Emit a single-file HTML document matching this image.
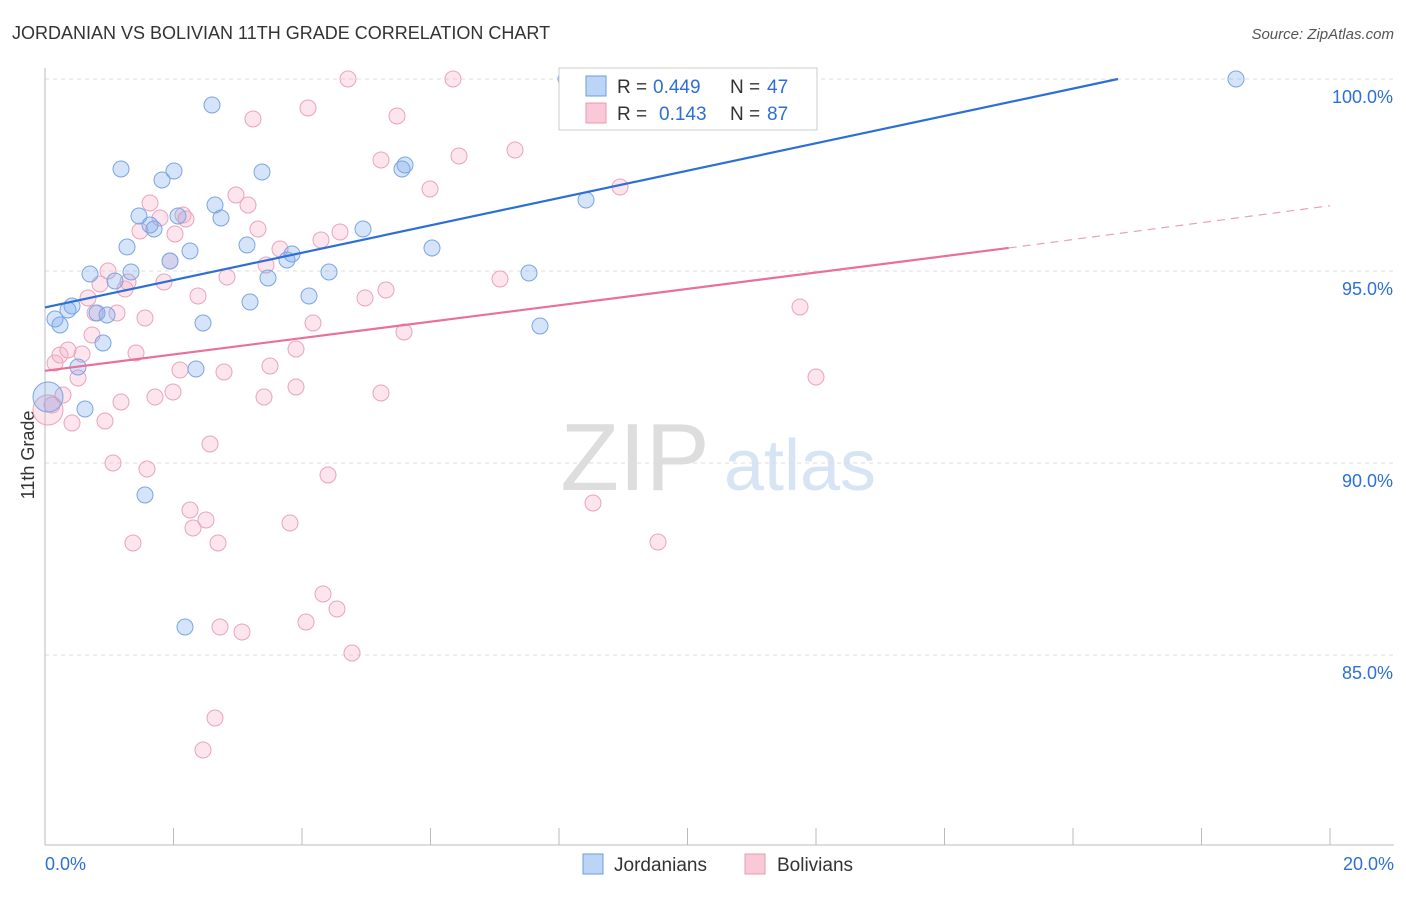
<!DOCTYPE html>
<html><head><meta charset="utf-8"><style>
body{margin:0;background:#fff;font-family:"Liberation Sans",sans-serif;}
svg text{font-family:"Liberation Sans",sans-serif;}
</style></head><body>
<svg id="chart" width="1406" height="892" xmlns="http://www.w3.org/2000/svg">
<text x="12" y="39" font-size="18" fill="#333">JORDANIAN VS BOLIVIAN 11TH GRADE CORRELATION CHART</text>
<text x="1394" y="39" font-size="15" fill="#555" font-style="italic" text-anchor="end">Source: ZipAtlas.com</text>
<text x="34" y="455" font-size="18" fill="#333" transform="rotate(-90 34 455)" text-anchor="middle">11th Grade</text>
<text x="635" y="490" font-size="96" fill="#ddd" font-family="Liberation Serif" text-anchor="middle">ZIP</text>
<text x="800" y="490" font-size="72" fill="#d6e4f5" text-anchor="middle">atlas</text>
<g id="grid"></g><g id="pts"></g><g id="lines"></g>
<g>
<rect x="559" y="68" width="258" height="62" fill="#fff" stroke="#ccc"/>
<rect x="586" y="76" width="20" height="20" fill="#bcd4f5" stroke="#6a9be0"/>
<rect x="586" y="103" width="20" height="20" fill="#f9c9d8" stroke="#e899b4"/>
<text x="617" y="93" font-size="19" fill="#333">R =</text>
<text x="653" y="93" font-size="19" fill="#2d6fd6">0.449</text>
<text x="730" y="93" font-size="19" fill="#333">N =</text>
<text x="767" y="93" font-size="19" fill="#2d6fd6">47</text>
<text x="617" y="120" font-size="19" fill="#333">R =</text>
<text x="659" y="120" font-size="19" fill="#2d6fd6">0.143</text>
<text x="730" y="120" font-size="19" fill="#333">N =</text>
<text x="767" y="120" font-size="19" fill="#2d6fd6">87</text>
</g>
<g>
<rect x="583" y="854" width="20" height="20" fill="#bcd4f5" stroke="#6a9be0"/>
<text x="614" y="871" font-size="19" fill="#333">Jordanians</text>
<rect x="745" y="854" width="20" height="20" fill="#f9c9d8" stroke="#e899b4"/>
<text x="777" y="871" font-size="19" fill="#333">Bolivians</text>
</g>
</svg>
<script>
const yTicks=[100,95,90,85];
const xTickLabels=["0.0%","20.0%"];
const bluePx=[[48,397],[55,319],[60,325],[68,310],[72,306],[78,367],[85,409],[90,274],[97,313],[103,343],[107,315],[115,281],[121,169],[127,247],[131,272],[139,216],[145,495],[150,225],[154,229],[162,180],[170,261],[174,171],[178,216],[185,627],[190,251],[196,369],[203,323],[212,105],[215,205],[221,218],[247,245],[250,302],[262,172],[268,278],[287,260],[292,254],[309,296],[329,272],[363,229],[402,169],[405,165],[432,248],[529,273],[540,326],[566,79],[586,200],[1236,79]];
const pinkPx=[[48,410],[52,405],[55,363],[60,355],[63,395],[68,350],[72,423],[78,378],[82,354],[88,298],[92,335],[95,313],[100,284],[105,421],[108,271],[113,463],[117,313],[121,402],[125,289],[128,282],[133,543],[136,353],[140,231],[145,318],[147,469],[150,203],[155,397],[160,218],[164,282],[170,261],[173,392],[175,234],[180,370],[183,215],[186,219],[190,510],[193,528],[198,296],[206,520],[210,444],[218,543],[220,627],[215,718],[203,750],[224,372],[227,277],[236,195],[242,632],[248,205],[253,119],[258,229],[264,397],[266,265],[270,366],[280,249],[290,523],[296,387],[296,349],[306,622],[308,108],[313,323],[321,240],[323,594],[328,475],[337,609],[340,232],[348,79],[352,653],[365,298],[381,393],[381,160],[386,290],[397,116],[404,332],[430,189],[453,79],[459,156],[500,279],[515,150],[593,503],[620,187],[658,542],[800,307],[816,377]];
const toData=p=>[(p[0]-45)/64.25,100-(p[1]-79)/38.4];
const jordanX=bluePx.map(p=>toData(p)[0]), jordanY=bluePx.map(p=>toData(p)[1]);
const bolivX=pinkPx.map(p=>toData(p)[0]), bolivY=pinkPx.map(p=>toData(p)[1]);
const blueTrend=[[0,94.05],[16.7,100]];
const pinkTrend=[[0,92.4],[15.0,95.6],[20,96.7]];
const X=v=>45+v*64.25, Y=v=>79+(100-v)*38.4;
const NS="http://www.w3.org/2000/svg";
function mk(t,a,parent){const e=document.createElementNS(NS,t);for(const k in a)e.setAttribute(k,a[k]);document.getElementById(parent).appendChild(e);return e;}
yTicks.forEach(v=>{
 const l=mk('line',{x1:45,x2:1394,y1:Y(v),y2:Y(v),stroke:'#ddd','stroke-dasharray':'4,4'},'grid');
 
 
 const t=mk('text',{x:1393,y:Y(v)+24,'font-size':18,fill:'#2d6fd6','text-anchor':'end'},'grid');
 t.textContent=v.toFixed(1)+'%';
 
 
});
const ax=mk('line',{x1:45,x2:45,y1:68,y2:845,stroke:'#bbb'},'grid');


const bx=mk('line',{x1:45,x2:1394,y1:845,y2:845,stroke:'#bbb'},'grid');


for(let i=0;i<=10;i++){const tk=mk('line',{x1:X(i*2),x2:X(i*2),y1:828,y2:845,stroke:'#bbb'},'grid');
 
 }
[[0,'start',45],[20,'end',1394]].forEach((d,i)=>{const t=mk('text',{x:d[2],y:870,'font-size':18,fill:'#2d6fd6','text-anchor':d[1]},'grid');t.textContent=xTickLabels[i];
 
 });
function dots(xs,ys,fill,stroke,name){xs.forEach((x,i)=>{const r=i===0?15:8;
 const c=mk('circle',{cx:X(x),cy:Y(ys[i]),r:r,fill:fill,stroke:stroke,'stroke-width':1},'pts');
 
 });}
dots(bolivX,bolivY,'rgba(244,170,195,0.3)','#eaa4bd','bolivian-point');
dots(jordanX,jordanY,'rgba(120,165,235,0.3)','#7aa6e4','jordanian-point');
const bl=mk('line',{x1:X(blueTrend[0][0]),y1:Y(blueTrend[0][1]),x2:X(blueTrend[1][0]),y2:Y(blueTrend[1][1]),stroke:'#2d6fd6','stroke-width':2.2},'lines');


const pl=mk('line',{x1:X(pinkTrend[0][0]),y1:Y(pinkTrend[0][1]),x2:X(pinkTrend[1][0]),y2:Y(pinkTrend[1][1]),stroke:'#e8709a','stroke-width':2.2},'lines');


const pd=mk('line',{x1:X(pinkTrend[1][0]),y1:Y(pinkTrend[1][1]),x2:X(pinkTrend[2][0]),y2:Y(pinkTrend[2][1]),stroke:'#e8a0b8','stroke-width':1.2,'stroke-dasharray':'8,6'},'lines');


</script>
</body></html>
